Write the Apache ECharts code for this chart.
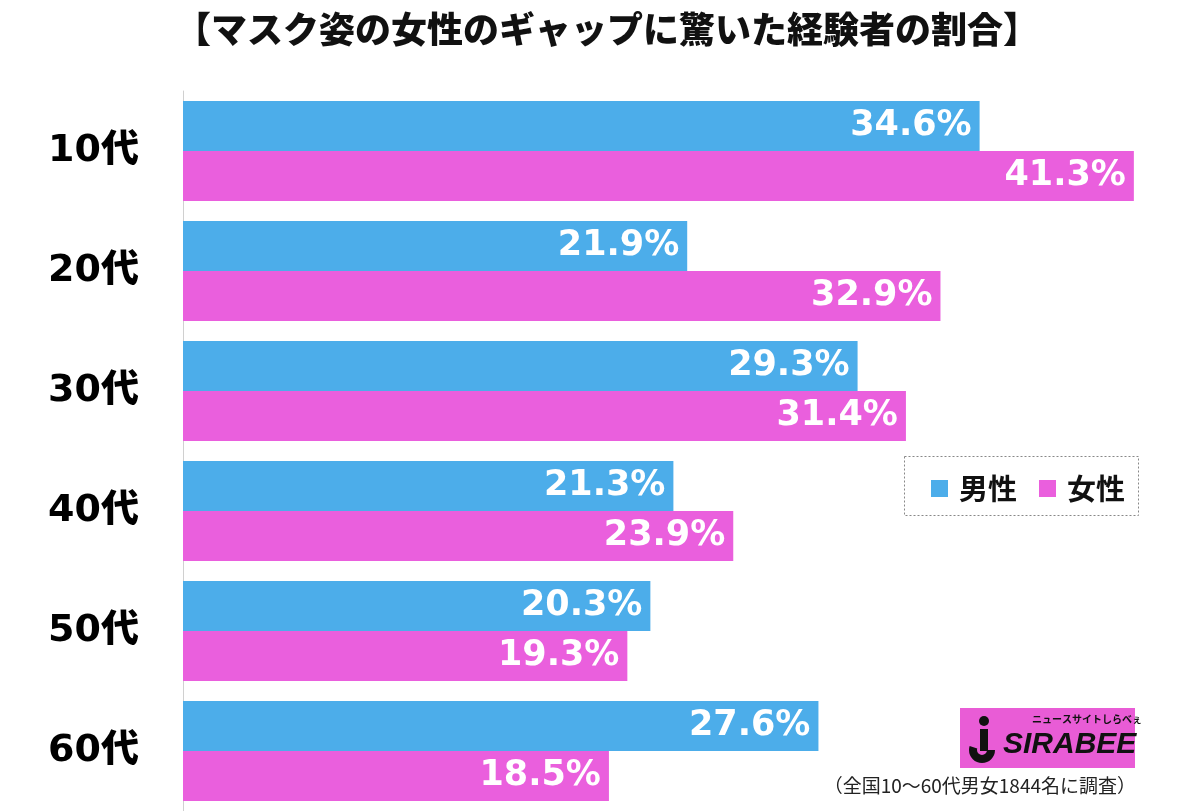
<!DOCTYPE html>
<html><head><meta charset="utf-8">
<script src="https://cdn.jsdelivr.net/npm/echarts@6/dist/echarts.min.js"></script>
<style>html,body{margin:0;padding:0;background:#fff}#c{width:1200px;height:811px}</style>
</head><body><div id="c"></div>
<script>
const categories = ['10代','20代','30代','40代','50代','60代'];
const male = [34.6, 21.9, 29.3, 21.3, 20.3, 27.6];
const female = [41.3, 32.9, 31.4, 23.9, 19.3, 18.5];
const seriesNames = ['男性','女性'];
const titleText = '【マスク姿の女性のギャップに驚いた経験者の割合】';
const noteText = '（全国10〜60代男女1844名に調査）';

const BLUE = '#4cadea';
const PINK = '#ea5fdd';
const FONT = '"Noto Sans CJK JP", "Noto Sans", sans-serif';

const chart = echarts.init(document.getElementById('c'));
const labelOpt = {
  show: true, position: 'insideRight', distance: 8,
  color: '#fff', fontSize: 35, fontWeight: 'bold',
  fontFamily: '"DejaVu Sans", sans-serif',
  formatter: p => p.value.toFixed(1) + '%'
};
chart.setOption({
  animation: false,
  backgroundColor: '#fff',
  title: {
    text: titleText, left: 170, top: 6,
    textStyle: { fontSize: 36, fontWeight: 900, color: '#111', fontFamily: FONT }
  },
  legend: {
    data: seriesNames, left: 926, top: 469, orient: 'horizontal',
    icon: 'rect', itemWidth: 17, itemHeight: 17, itemGap: 22,
    textStyle: { fontSize: 29, fontWeight: 'bold', color: '#111', fontFamily: FONT, padding: [0,0,0,6] }
  },
  grid: { left: 183, top: 91, right: 27, bottom: 0, containLabel: false },
  xAxis: {
    type: 'value', min: 0, max: 43,
    show: false
  },
  yAxis: {
    type: 'category', data: categories, inverse: true,
    axisLine: { show: true, lineStyle: { color: '#d0d0d0', width: 1 } },
    axisTick: { show: false },
    axisLabel: { margin: 44, fontSize: 38, fontWeight: 900, color: '#000', padding: [8, 0, 0, 0],
      fontFamily: '"DejaVu Sans", "Noto Sans CJK JP", sans-serif' }
  },
  series: [
    { name: seriesNames[0], type: 'bar', data: male, itemStyle: { color: BLUE },
      barGap: '0%', barCategoryGap: '16.7%', label: labelOpt },
    { name: seriesNames[1], type: 'bar', data: female, itemStyle: { color: PINK },
      barGap: '0%', barCategoryGap: '16.7%', label: labelOpt }
  ],
  graphic: [
    { type: 'rect', shape: { x: 904.5, y: 456.5, width: 234, height: 59 },
      style: { fill: 'none', stroke: '#888', lineWidth: 1, lineDash: [2, 2] }, z: 10 },
    { type: 'rect', shape: { x: 960, y: 708, width: 175, height: 60 },
      style: { fill: '#e95cd6' }, z: 10 },
    { type: 'circle', shape: { cx: 984, cy: 721, r: 5 }, style: { fill: '#111' }, z: 11 },
    { type: 'rect', shape: { x: 980, y: 729, width: 8, height: 22 }, style: { fill: '#111' }, z: 11 },
    { type: 'arc', shape: { cx: 982, cy: 750, r: 9, startAngle: 0, endAngle: Math.PI * 1.1, clockwise: true },
      style: { stroke: '#111', lineWidth: 8, fill: 'none' }, z: 11 },
    { type: 'text', left: 1003, top: 730,
      style: { text: 'SIRABEE', fill: '#111', font: 'italic 900 30px "Liberation Sans", sans-serif' }, z: 11 },
    { type: 'text', left: 1032, top: 714,
      style: { text: 'ニュースサイトしらべぇ', fill: '#111', font: 'bold 10px "Noto Sans CJK JP", sans-serif' }, z: 11 },
    { type: 'text', right: 64, top: 776,
      style: { text: noteText, fill: '#222', font: '19px ' + FONT }, z: 11 }
  ]
});
</script></body></html>
